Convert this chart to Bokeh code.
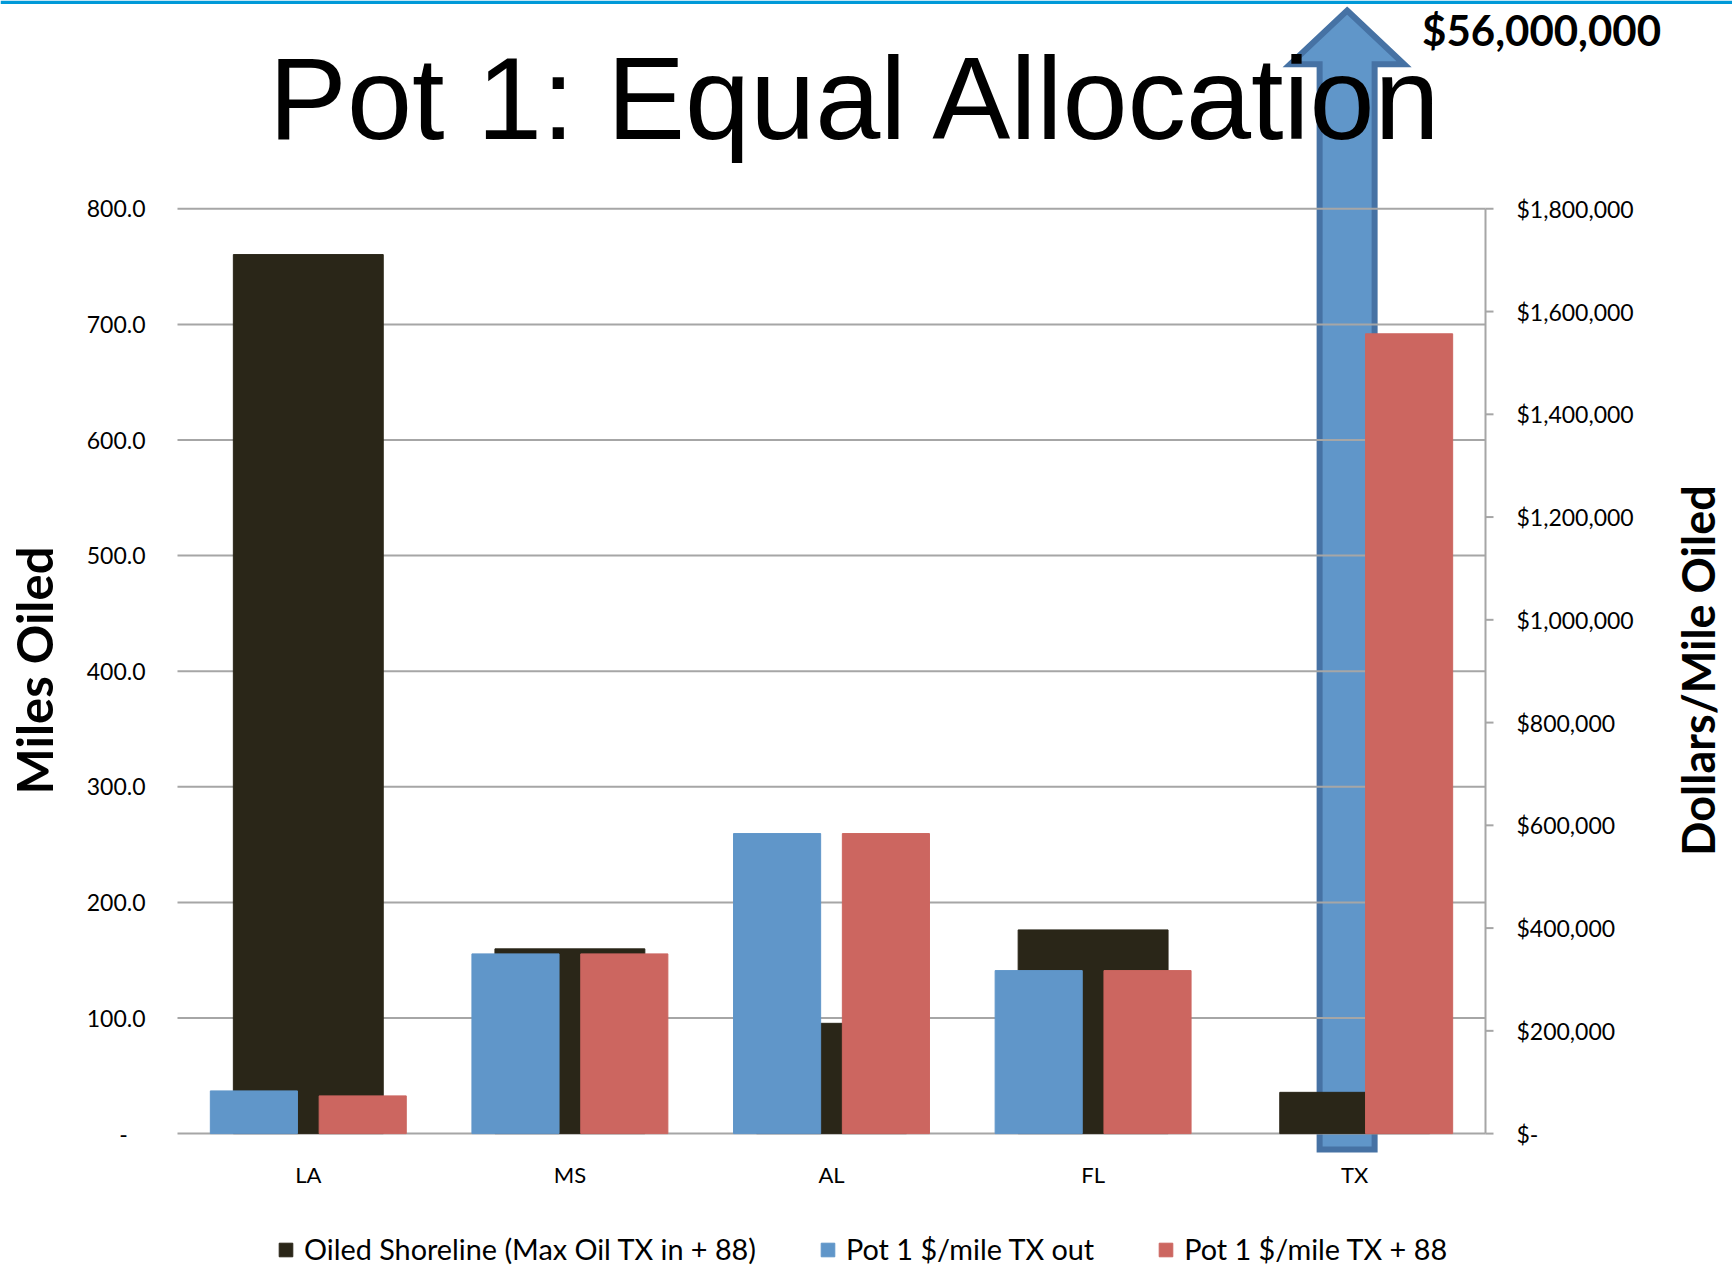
import math

from bokeh.core.properties import value
from bokeh.embed import file_html
from bokeh.models import BoxAnnotation, Label, Legend, LegendItem, Range1d
from bokeh.plotting import figure
from bokeh.resources import INLINE

# ---- data -------------------------------------------------------------
states = ["LA", "MS", "AL", "FL", "TX"]
oiled_miles = [760.4, 159.8, 95.4, 176.2, 35.7]              # left axis
dollars_tx_out = [83100, 349800, 584000, 317300, 56000000]   # right axis
dollars_tx_88 = [73400, 349800, 584000, 317300, 1556700]     # right axis

series_names = ["Oiled Shoreline (Max Oil TX in + 88)",
                "Pot 1 $/mile TX out",
                "Pot 1 $/mile TX + 88"]
chart_title = "Pot 1: Equal Allocation"
left_title = "Miles Oiled"
right_title = "Dollars/Mile Oiled"

miles_ticks = [0, 100, 200, 300, 400, 500, 600, 700, 800]
dollar_ticks = [0, 200000, 400000, 600000, 800000, 1000000,
                1200000, 1400000, 1600000, 1800000]

# ---- page geometry (pixels from the top-left corner of the page) -------
W, H = 1732, 1266
PLOT_LEFT, PLOT_RIGHT = 177.0, 1485.0       # where category 0 starts / 5 ends
ZERO_Y, MAX_Y = 1133.1, 208.3               # where 0 and the top tick sit
N = len(states)
CAT_PX = (PLOT_RIGHT - PLOT_LEFT) / N
miles_max = miles_ticks[-1]
dollar_max = dollar_ticks[-1]
PX_PER_MILE = (ZERO_Y - MAX_Y) / miles_max
DOLLARS_PER_MILE_UNIT = dollar_max / miles_max
BASELINE_SHIFT = 0.36   # label anchor sits this many ems below the drawn baseline


def xd(px):
    return (px - PLOT_LEFT) / CAT_PX


def yd(py):
    return (ZERO_Y - py) / PX_PER_MILE


def ydol(py):
    return yd(py) * DOLLARS_PER_MILE_UNIT


def sy(py):
    return H - py


BLACK = "#2a2618"
BLUE = "#6096c9"
RED = "#cc6660"
ARROW_EDGE = "#4672a4"
GRID = "#a6a6a6"
FONT = "Lato"

# the data frame fills the whole page; ranges are set so that the
# category band and the value axes land where the chart body sits
p = figure(width=W, height=H, output_backend="svg", toolbar_location=None,
           x_range=Range1d(xd(0), xd(W)), y_range=Range1d(yd(H), yd(0)),
           x_axis_location=None, y_axis_location=None,
           min_border=0, min_border_left=0, min_border_right=0,
           min_border_top=0, min_border_bottom=0, title=None)
p.extra_y_ranges = {"dollars": Range1d(ydol(H), ydol(0))}
p.outline_line_color = None
p.background_fill_color = "white"
p.border_fill_color = "white"
p.grid.visible = False

centers = [i + 0.5 for i in range(N)]
offset = 0.208
pair_w = 0.333
black_w = 0.573

# ---- off-scale value: drawn as an up arrow with its value --------------
blue_x, blue_top = [], []
for c, v in zip(centers, dollars_tx_out):
    if v <= dollar_max:
        blue_x.append(c - offset)
        blue_top.append(v)
        continue
    ax = c - 0.029
    shaft = 27.5 / CAT_PX
    head = 57.0 / CAT_PX
    tip, base, bottom = ydol(10), ydol(63.7), ydol(1149)
    p.patch(x=[ax, ax + head, ax + shaft, ax + shaft, ax - shaft, ax - shaft, ax - head],
            y=[tip, base, base, bottom, bottom, base, base],
            y_range_name="dollars", fill_color=BLUE, line_color=ARROW_EDGE,
            line_width=6, line_join="miter")
    p.add_layout(Label(x=ax, y=sy(45 - BASELINE_SHIFT * 42), x_units="data",
                       y_units="screen", x_offset=75, text="${:,.0f}".format(v),
                       text_font=FONT, text_font_style="bold",
                       text_font_size="42px", text_color="black",
                       text_align="left", text_baseline="alphabetic"))

# ---- horizontal grid on the miles scale --------------------------------
p.segment(x0=[0] * len(miles_ticks), x1=[N] * len(miles_ticks),
          y0=miles_ticks, y1=miles_ticks, line_color=GRID, line_width=2)

# ---- bars --------------------------------------------------------------
r_black = p.vbar(x=centers, top=oiled_miles, width=black_w,
                 fill_color=BLACK, line_color=BLACK)
r_blue = p.vbar(x=blue_x, top=blue_top, width=pair_w, y_range_name="dollars",
                fill_color=BLUE, line_color=BLUE)
r_red = p.vbar(x=[c + offset for c in centers], top=dollars_tx_88, width=pair_w,
               y_range_name="dollars", fill_color=RED, line_color=RED)

# ---- left value axis (miles) -------------------------------------------
miles_labels = ["-\u00a0\u00a0\u00a0" if t == 0 else f"{t:.1f}" for t in miles_ticks]
p.text(x=[xd(145)] * len(miles_ticks), y=miles_ticks, text=miles_labels,
       text_font=value(FONT), text_font_size=value("23px"), text_color="black",
       text_align="right", text_baseline="middle")

# ---- right value axis (dollars per mile) -------------------------------
dollar_labels = ["$-" if t == 0 else "${:,.0f}".format(t) for t in dollar_ticks]
p.segment(x0=[N], x1=[N], y0=[0], y1=[dollar_max], y_range_name="dollars",
          line_color=GRID, line_width=2)
p.segment(x0=[N] * len(dollar_ticks), x1=[xd(1493)] * len(dollar_ticks),
          y0=dollar_ticks, y1=dollar_ticks, y_range_name="dollars",
          line_color=GRID, line_width=2)
p.text(x=[xd(1516)] * len(dollar_ticks), y=dollar_ticks, text=dollar_labels,
       y_range_name="dollars", text_font=value(FONT), text_font_size=value("23px"),
       text_color="black", text_align="left", text_baseline="middle")

# ---- category labels ---------------------------------------------------
p.text(x=centers, y=[yd(1174)] * N, text=states,
       text_font=value(FONT), text_font_size=value("22px"), text_color="black",
       text_align="center", text_baseline="middle")

# ---- accent strip along the top edge -----------------------------------
p.add_layout(BoxAnnotation(left=0, right=W, top=sy(0), bottom=sy(3.5),
                           left_units="screen", right_units="screen",
                           top_units="screen", bottom_units="screen",
                           fill_color="#0099d8", fill_alpha=1.0, line_color=None))

# ---- title and axis titles ---------------------------------------------
p.add_layout(Label(x=857, y=sy(140 - BASELINE_SHIFT * 117), x_units="screen",
                   y_units="screen", text=chart_title, text_font="Liberation Sans",
                   text_font_size="117px", text_color="black",
                   text_align="center", text_baseline="alphabetic"))
p.add_layout(Label(x=51 - BASELINE_SHIFT * 49, y=sy(670), x_units="screen",
                   y_units="screen", text=left_title, angle=math.pi / 2,
                   text_font=FONT, text_font_style="bold",
                   text_font_size="49px", text_color="black",
                   text_align="center", text_baseline="alphabetic"))
p.add_layout(Label(x=1714 - BASELINE_SHIFT * 45, y=sy(670), x_units="screen",
                   y_units="screen", text=right_title, angle=math.pi / 2,
                   text_font=FONT, text_font_style="bold",
                   text_font_size="45px", text_color="black",
                   text_align="center", text_baseline="alphabetic"))

# ---- legend ------------------------------------------------------------
legend = Legend(items=[LegendItem(label=series_names[0], renderers=[r_black]),
                       LegendItem(label=series_names[1], renderers=[r_blue]),
                       LegendItem(label=series_names[2], renderers=[r_red])],
                orientation="horizontal", location=(277, 0),
                glyph_width=17, glyph_height=17, label_standoff=10, spacing=63,
                padding=0, margin=0, border_line_color=None,
                background_fill_alpha=0,
                label_text_font=FONT, label_text_font_size="28.8px",
                label_text_color="black")
p.add_layout(legend)

open("out.html", "w").write(file_html(p, INLINE))
